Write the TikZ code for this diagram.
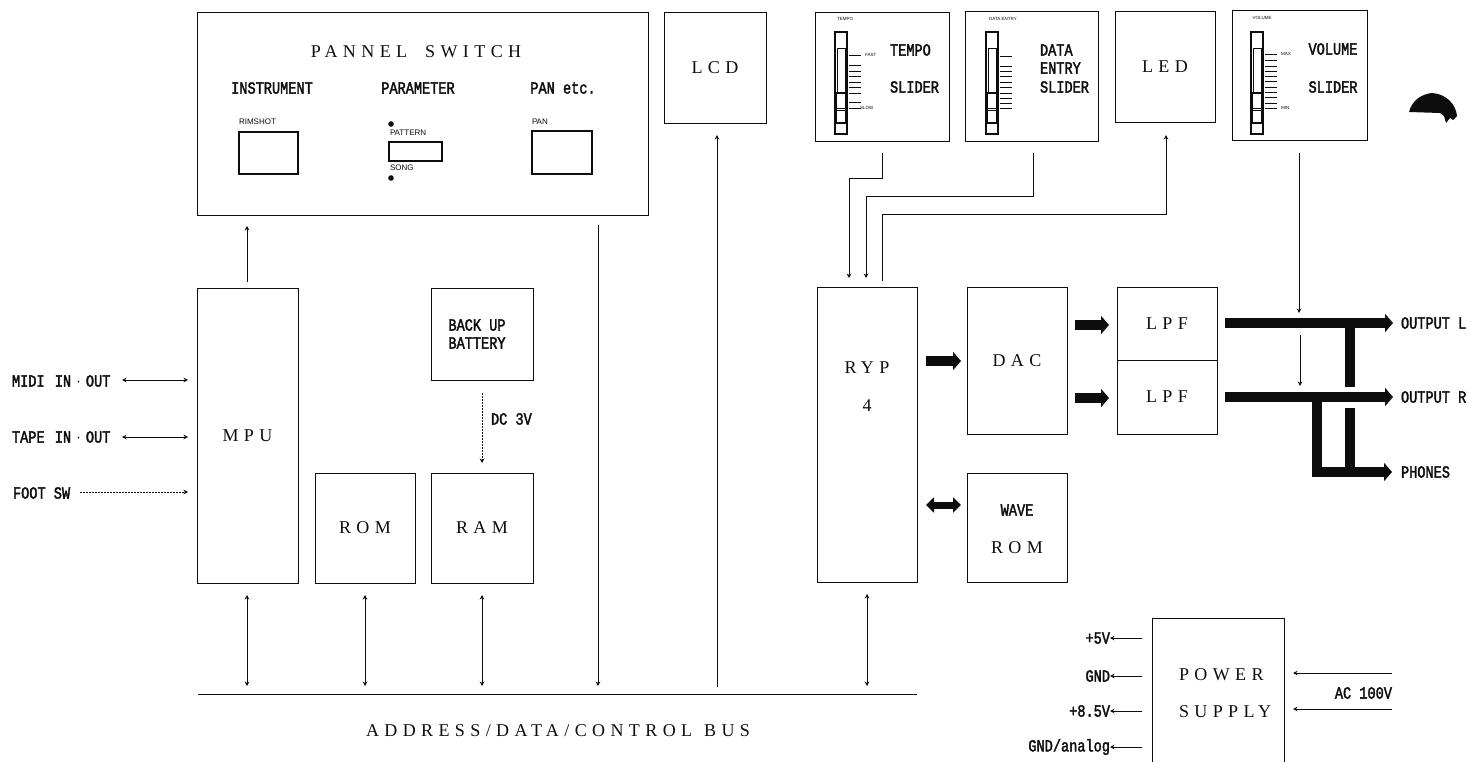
\documentclass[tikz,border=0pt]{standalone}
\usepackage{fontspec}
\usetikzlibrary{arrows.meta}
\setmainfont{Liberation Serif}
\newfontfamily\labf[FakeStretch=0.8,FakeBold=2]{Liberation Mono}
\newfontfamily\wide[LetterSpace=30]{Liberation Serif}
\newfontfamily\smallsans{Liberation Sans}
\definecolor{ink}{gray}{0.05}
\tikzset{
  x=1pt,y=-1pt,
  every node/.style={inner sep=0pt,outer sep=0pt,text=ink},
  box/.style={draw=ink,line width=0.9pt,fill=white},
  btn/.style={draw=ink,line width=1.3pt},
  sl/.style={draw=ink,line width=1.1pt},
  tick/.style={draw=ink,line width=0.8pt},
  conn/.style={draw=ink,line width=0.8pt},
  dott/.style={draw=ink,line width=0.6pt,dash pattern=on 1.5pt off 1.5pt},
  tip/.style={-{Stealth[length=4.5pt,width=4.5pt]}},
  tips/.style={{Stealth[length=4.5pt,width=4.5pt]}-{Stealth[length=4.5pt,width=4.5pt]}},
  thick arr/.style={draw=ink,line width=10.5pt,-{Triangle[length=8pt,width=18pt]}},
  thick bi/.style={draw=ink,line width=7pt,{Triangle[length=8pt,width=15pt]}-{Triangle[length=8pt,width=15pt]}},
  thick ln/.style={draw=ink,line width=10pt},
  big/.style={font=\wide\fontsize{18}{18}\selectfont},
  lab/.style={font=\labf\fontsize{17}{17}\selectfont},
  mini/.style={font=\smallsans\fontsize{8}{8}\selectfont},
  micro/.style={font=\smallsans\fontsize{4.5}{4.5}\selectfont},
}
\newcommand{\sldr}[2]{%
  \draw[sl] (#1,32) rectangle ++(12,102);
  \draw[sl,line width=0.8pt] (#1+2,48) rectangle ++(8,45);
  \draw[sl] (#1+1,93) rectangle ++(10,30);
  \draw[sl,line width=0.7pt] (#1+1,108) -- ++(10,0);
  \draw[sl,line width=0.7pt] (#1+1,110) -- ++(10,0);
  \foreach \yy in {#2} {\draw[tick] (#1+14,\yy) -- ++(12,0);}
}
\begin{document}
\begin{tikzpicture}
\useasboundingbox (0,0) rectangle (1470,762);
% Panel
\node[box,minimum width=451pt,minimum height=203pt,anchor=north west] (panel) at (197,12) {};
\node[big] (t1) at (416,52) {PANNEL\hspace{18pt}SWITCH};
\node[lab] (t2) at (272,88) {INSTRUMENT};
\node[lab] (t3) at (418,88) {PARAMETER};
\node[lab] (t4) at (563,88) {PAN etc.};
\node[mini,anchor=west] (t5) at (239,122) {RIMSHOT};
\draw[btn] (239,132) rectangle (298,174);
\fill[ink] (391,124) circle (2.8pt);
\node[mini,anchor=west] (t6) at (390,133) {PATTERN};
\draw[btn] (389,142) rectangle (442,161);
\node[mini,anchor=west] (t7) at (390,168) {SONG};
\fill[ink] (391,178) circle (2.8pt);
\node[mini,anchor=west] (t8) at (532,122) {PAN};
\draw[btn] (532,131) rectangle (592,174);
% LCD, sliders, LED
\node[box,minimum width=102pt,minimum height=111pt,anchor=north west] (lcd) at (664,12) {};
\node[big] at (lcd.center) {LCD};
\node[box,minimum width=134pt,minimum height=129pt,anchor=north west] (tempo) at (815,12) {};
\sldr{835}{55,65,71,76,82,87,93,102,108}
\node[micro] at (845,19) {TEMPO};
\node[micro,anchor=west] at (865,55) {FAST};
\node[micro,anchor=west] at (860,108) {SLOW};
\node[lab,anchor=west] at (890,50) {TEMPO};
\node[lab,anchor=west] at (890,87) {SLIDER};
\node[box,minimum width=133pt,minimum height=130pt,anchor=north west] (data) at (965,11) {};
\sldr{986}{56,66,71,76,82,87,93,98,103,108}
\node[micro] at (1003,19) {DATA ENTRY};
\node[lab,anchor=west] at (1040,50) {DATA};
\node[lab,anchor=west] at (1040,68) {ENTRY};
\node[lab,anchor=west] at (1040,87) {SLIDER};
\node[box,minimum width=100pt,minimum height=111pt,anchor=north west] (led) at (1115,11) {};
\node[big] at (led.center) {LED};
\node[box,minimum width=135pt,minimum height=130pt,anchor=north west] (vol) at (1232,10) {};
\sldr{1251}{54,60,66,71,76,81,87,92,97,103,108}
\node[micro] at (1262,18) {VOLUME};
\node[micro,anchor=west] at (1281,54) {MAX};
\node[micro,anchor=west] at (1281,108) {MIN};
\node[lab] at (1333,49) {VOLUME};
\node[lab] at (1333,87) {SLIDER};
\fill[ink] (1409,112) .. controls (1412,100) and (1422,94) .. (1432,93)
  .. controls (1447,94) and (1456,105) .. (1457,116) -- (1453,120) -- (1450,118) -- (1446,123) -- (1444,116) -- (1440,113) -- cycle;
% Left column
\node[box,minimum width=101pt,minimum height=295pt,anchor=north west] (mpu) at (197,288) {};
\node[big] at (mpu.center) {MPU};
\node[box,minimum width=100pt,minimum height=110pt,anchor=north west] (rom) at (315,473) {};
\node[big] at (rom.center) {ROM};
\node[box,minimum width=102pt,minimum height=110pt,anchor=north west] (ram) at (431,473) {};
\node[big] at (ram.center) {RAM};
\node[box,minimum width=102pt,minimum height=92pt,anchor=north west] (batt) at (431,288) {};
\node[lab] at (477,325) {BACK UP};
\node[lab] at (477,343) {BATTERY};
\node[lab,anchor=west] (dc) at (491,419) {DC 3V};
\coordinate (b1) at (482,393);\coordinate (r1) at (482,463);
\draw[dott,tip] (b1) -- (r1);
\coordinate (m1) at (247,282);\coordinate (p1) at (247,226);
\draw[conn,tip] (m1) -- (p1);
% Bus
\coordinate (busL) at (198,694);\coordinate (busR) at (917,694);
\draw[conn,line width=1pt] (busL) -- (busR);
\node[big] at (558,731) {ADDRESS/DATA/CONTROL\hspace{12pt}BUS};
\foreach \xx/\aa/\bb in {247/595/686,365/595/686,482/595/686,867/594/686}{
  \draw[conn,tips] (\xx,\aa) -- (\xx,\bb);}
\coordinate (s1) at (598,225);\coordinate (s2) at (598,686);
\draw[conn,tip] (s1) -- (s2);
\coordinate (l1) at (717,687);\coordinate (l2) at (717,135);
\draw[conn,tip] (l1) -- (l2);
% Left inputs
\node[lab,anchor=west] (midi) at (12,381) {MIDI\hspace{2pt} IN\hspace{5pt}$\cdot$\hspace{5pt}OUT};
\node[lab,anchor=west] (tape) at (12,437) {TAPE\hspace{2pt} IN\hspace{5pt}$\cdot$\hspace{5pt}OUT};
\node[lab,anchor=west] (foot) at (13,493) {FOOT SW};
\draw[conn,tips] (122,380) -- (188,380);
\draw[conn,tips] (122,437) -- (188,437);
\draw[dott,tip] (80,492) -- (188,492);
% RYP etc
\node[box,minimum width=100pt,minimum height=295pt,anchor=north west] (ryp) at (817,287) {};
\node[big] at (867,368) {RYP};
\node[big] at (867,406) {4};
\node[box,minimum width=100pt,minimum height=147pt,anchor=north west] (dac) at (967,287) {};
\node[big] at (dac.center) {DAC};
\node[box,minimum width=100pt,minimum height=109pt,anchor=north west] (wave) at (967,473) {};
\node[lab] at (1017,510) {WAVE};
\node[big] at (1017,548) {ROM};
\node[box,minimum width=100pt,minimum height=73pt,anchor=north west] (lpf1) at (1117,287) {};
\node[big] at (lpf1.center) {LPF};
\node[box,minimum width=100pt,minimum height=74pt,anchor=north west] (lpf2) at (1117,360) {};
\node[big] at (lpf2.center) {LPF};
% Slider wires
\draw[conn,tip] (882,153) -- (882,178) -- (849,178) -- (849,278);
\draw[conn,tip] (1033,153) -- (1033,196) -- (866,196) -- (866,278);
\draw[conn,tip] (882,281) -- (882,214) -- (1166,214) -- (1166,135);
\draw[conn,tip] (1299,153) -- (1299,313);
\draw[conn,tip] (1300,335) -- (1300,386);
% Thick arrows
\draw[thick arr] (926,361) -- (961,361);
\draw[thick bi] (926,505) -- (961,505);
\draw[thick arr] (1075,325) -- (1109,325);
\draw[thick arr] (1075,398) -- (1109,398);
\draw[thick ln] (1350,323) -- (1350,387);
\draw[thick ln] (1350,408) -- (1350,472);
\draw[thick ln] (1317,397) -- (1317,472);
\draw[thick arr] (1225,323) -- (1393,323);
\draw[thick arr] (1225,397) -- (1393,397);
\draw[thick arr] (1312,472) -- (1392,472);
\node[lab,anchor=west] (ol) at (1401,323) {OUTPUT L};
\node[lab,anchor=west] (or) at (1401,397) {OUTPUT R};
\node[lab,anchor=west] (ph) at (1401,472) {PHONES};
% Power supply
\coordinate (pwbl) at (1152,763);\coordinate (pwtl) at (1152,618);
\coordinate (pwtr) at (1284,618);\coordinate (pwbr) at (1284,763);
\draw[conn,line width=0.9pt] (pwbl) -- (pwtl) -- (pwtr) -- (pwbr);
\node[big,anchor=west] at (1179,675) {POWER};
\node[big,anchor=west] at (1179,712) {SUPPLY};
\node[lab,anchor=east] (v1) at (1110,638) {+5V};
\node[lab,anchor=east] (v2) at (1110,676) {GND};
\node[lab,anchor=east] (v3) at (1110,711) {+8.5V};
\node[lab,anchor=east] (v4) at (1110,747) {GND/analog};
\draw[conn,tip] (1142,638) -- (v1.east);
\draw[conn,tip] (1142,676) -- (v2.east);
\draw[conn,tip] (1142,711) -- (v3.east);
\draw[conn,tip] (1142,747) -- (v4.east);
\draw[conn,tip] (1392,673) -- (1293,673);
\draw[conn,tip] (1392,709) -- (1293,709);
\node[lab,anchor=east] (ac) at (1392,693) {AC 100V};
\end{tikzpicture}
\end{document}
